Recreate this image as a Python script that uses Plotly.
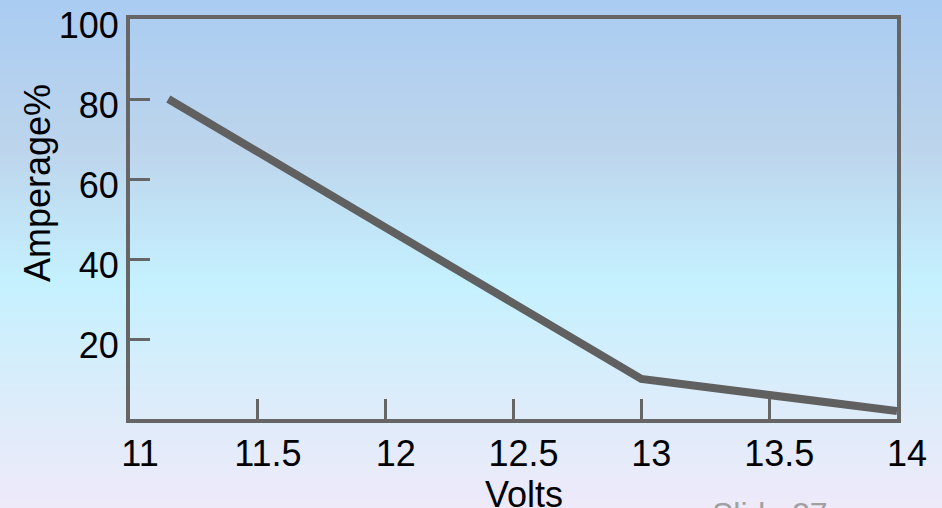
import plotly.graph_objects as go

# Data
volts = [11.15, 13.0, 14.0]
amperage = [80, 10, 2]
x_ticks = [11, 11.5, 12, 12.5, 13, 13.5, 14]
x_labels = ["11", "11.5", "12", "12.5", "13", "13.5", "14"]
y_ticks = [20, 40, 60, 80, 100]
y_labels = ["20", "40", "60", "80", "100"]

W, H = 942, 508
L, R, T, B = 130, 45, 19, 89
pw, ph = W - L - R, H - T - B

def px_to_paper_x(px):
    return (px - L) / pw

def px_to_paper_y(py):
    return (H - B - py) / ph

# background gradient stops (pixel y, rgb)
stops = [(0, (170, 204, 242)), (150, (189, 213, 236)), (285, (197, 241, 255)),
         (400, (220, 236, 250)), (508, (238, 234, 250))]

def color_at(y):
    for (y0, c0), (y1, c1) in zip(stops[:-1], stops[1:]):
        if y0 <= y <= y1:
            t = (y - y0) / (y1 - y0)
            return "rgb(%d,%d,%d)" % tuple(round(a + (b - a) * t) for a, b in zip(c0, c1))
    return "rgb(%d,%d,%d)" % stops[-1][1]

shapes = []
step = 4
for y in range(0, H, step):
    shapes.append(dict(type="rect", xref="paper", yref="paper", layer="below",
                       x0=px_to_paper_x(-5), x1=px_to_paper_x(W + 5),
                       y0=px_to_paper_y(y + step + 0.5), y1=px_to_paper_y(y - 0.5),
                       fillcolor=color_at(y + step / 2), line=dict(width=0)))

font = "Liberation Sans, Arial, sans-serif"
fig = go.Figure()
fig.add_trace(go.Scatter(x=volts, y=amperage, mode="lines",
                         line=dict(color="#606060", width=8), hoverinfo="skip"))

axis_common = dict(showline=True, linecolor="#666666", linewidth=4, mirror=True,
                   ticks="inside", ticklen=20, tickwidth=3, tickcolor="#666666",
                   showgrid=False, zeroline=False, automargin=False,
                   tickfont=dict(family=font, size=36, color="black"))

fig.update_xaxes(range=[11, 14], tickvals=x_ticks, ticktext=x_labels,
                 ticklabelshift=10, **axis_common)
fig.update_yaxes(range=[0, 100], tickvals=y_ticks, ticktext=y_labels,
                 ticklabelshift=6, **axis_common)

annotations = [
    dict(text="Amperage%", x=px_to_paper_x(37), y=px_to_paper_y(183), xref="paper", yref="paper",
         textangle=-90, showarrow=False, xanchor="center", yanchor="middle",
         font=dict(family=font, size=36, color="black")),
    dict(text="Volts", x=px_to_paper_x(524), y=px_to_paper_y(494), xref="paper", yref="paper",
         showarrow=False, xanchor="center", yanchor="middle",
         font=dict(family=font, size=36, color="black")),
    dict(text="Slide 27", x=px_to_paper_x(770), y=px_to_paper_y(514), xref="paper", yref="paper",
         showarrow=False, xanchor="center", yanchor="middle",
         font=dict(family=font, size=32, color="#a0a0a0")),
]

fig.update_layout(width=W, height=H, margin=dict(l=L, r=R, t=T, b=B, autoexpand=False),
                  paper_bgcolor="rgb(197,230,250)", plot_bgcolor="rgba(0,0,0,0)",
                  showlegend=False, shapes=shapes, annotations=annotations)

fig.write_html("out.html", config={"displayModeBar": False, "staticPlot": True},
               post_script="document.body.style.margin='0';document.body.style.padding='0';"
                           "document.body.style.overflow='hidden';"
                           "var d=document.getElementById('{plot_id}');"
                           "d.style.position='fixed';d.style.top='0px';d.style.left='0px';")
